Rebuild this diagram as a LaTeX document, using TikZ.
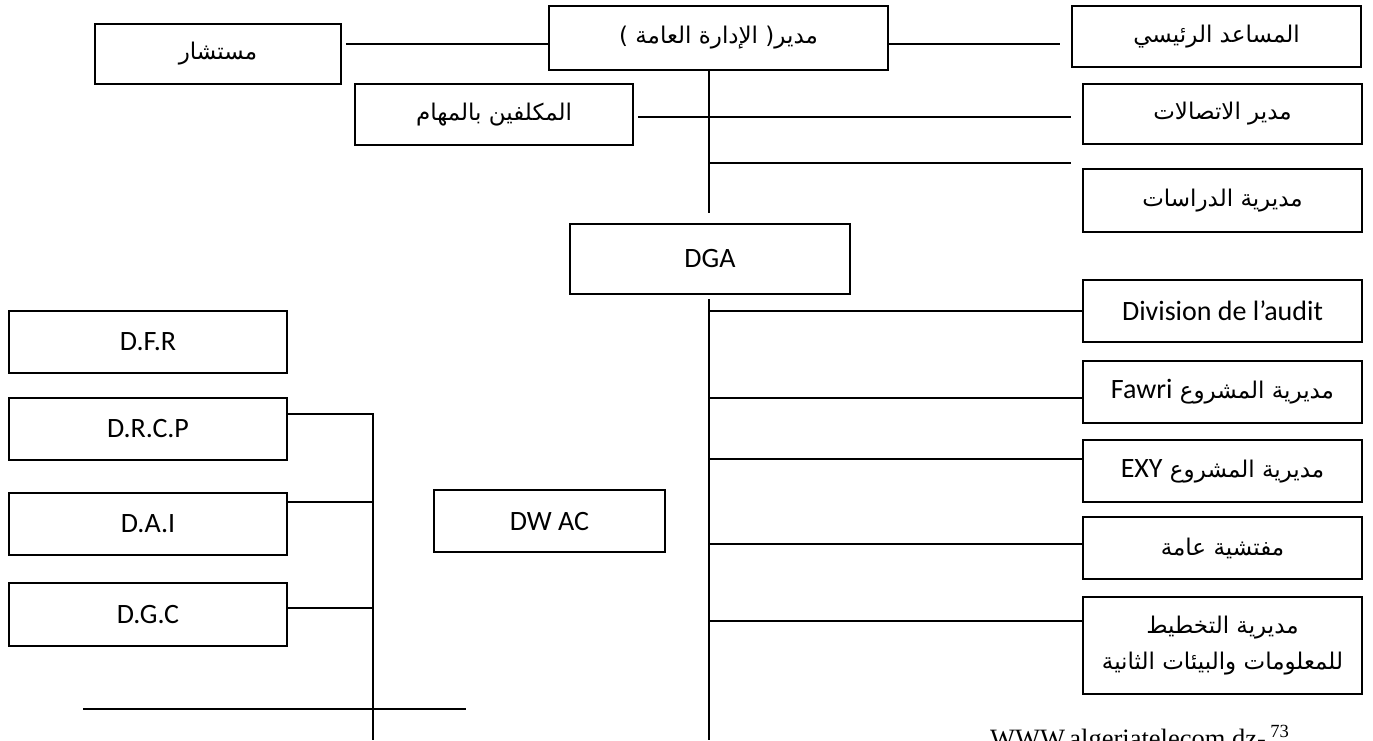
\documentclass[tikz,border=0pt]{standalone}
\usepackage{fontspec}
\setmainfont{Carlito}
\newfontfamily\arabicfont[Script=Arabic]{DejaVu Sans}
\newfontfamily\webfont{Liberation Serif}
\TeXXeTstate=1
\newcommand{\artext}[1]{{\arabicfont\fontsize{23}{28}\selectfont\beginR #1\endR}}

\begin{document}
\begin{tikzpicture}[x=1pt,y=-1pt,
  box/.style={draw, line width=1.8pt, minimum height=62pt, inner sep=0pt,
    font=\fontsize{28}{34}\selectfont},
  rbox/.style={box, minimum width=279pt},
  lbox/.style={box, minimum width=278pt},
  link/.style={line width=1.8pt}]
\useasboundingbox (0,0) rectangle (1373,740);

\node[box, minimum width=339pt, minimum height=64pt] (dir) at (718.5,38) {\artext{مدير( الإدارة العامة )}};
\node[box, minimum width=246pt, minimum height=60pt] (mustashar) at (218,54) {\artext{مستشار}};
\node[box, minimum width=289pt, minimum height=61pt] (musaid) at (1216.5,36.5) {\artext{المساعد الرئيسي}};
\node[box, minimum width=278pt, minimum height=61pt] (mukallafin) at (494,114.5) {\artext{المكلفين بالمهام}};
\node[rbox, minimum height=60pt] (ittisalat) at (1222.5,114) {\artext{مدير الاتصالات}};
\node[rbox, minimum height=63pt] (dirasat) at (1222.5,200.5) {\artext{مديرية الدراسات}};
\node[box, minimum width=280pt, minimum height=70pt] (dga) at (710,259) {DGA};

\node[rbox] (audit) at (1222.5,311) {Division de l’audit};
\node[rbox] (fawri) at (1222.5,392) {\artext{مديرية المشروع \beginL{\rmfamily\fontsize{28}{34}\selectfont Fawri}\endL}};
\node[rbox] (exy) at (1222.5,471) {\artext{مديرية المشروع \beginL{\rmfamily\fontsize{28}{34}\selectfont EXY}\endL}};
\node[rbox] (inspect) at (1222.5,548) {\artext{مفتشية عامة}};
\node[rbox, minimum height=97pt, align=center] (takhtit) at (1222.5,645.5)
  {\artext{مديرية التخطيط}\\[2pt]\artext{للمعلومات والبيئات الثانية}};

\node[lbox] (dfr) at (148,342) {D.F.R};
\node[lbox] (drcp) at (148,429) {D.R.C.P};
\node[lbox] (dai) at (148,524) {D.A.I};
\node[lbox, minimum height=63pt] (dgc) at (148,614.5) {D.G.C};
\node[box, minimum width=231pt] (dwac) at (549.5,521) {DW AC};

\node[anchor=base west, inner sep=0pt, font=\webfont\fontsize{26.5}{30}\selectfont] (site)
  at (990,747) {WWW.algeriatelecom.dz-\,\textsuperscript{73}};

\coordinate (rail1) at (0,44);
\coordinate (rail2) at (0,117);
\coordinate (rail3) at (0,163);
\coordinate (axis1) at (709,213);
\coordinate (spine) at (709,299);
\coordinate (spineend) at (709,740);
\coordinate (lspine) at (373,414);
\coordinate (lspineend) at (373,740);
\coordinate (baseL) at (83,709);
\coordinate (baseR) at (466,709);

\draw[link] (axis1 |- dir.south) -- (axis1);
\draw[link, shorten <=4pt] (mustashar.east |- rail1) -- (dir.west |- rail1);
\draw[link, shorten >=11pt] (dir.east |- rail1) -- (musaid.west |- rail1);
\draw[link, shorten <=4pt, shorten >=11pt] (mukallafin.east |- rail2) -- (ittisalat.west |- rail2);
\draw[link, shorten >=11pt] (axis1 |- rail3) -- (dirasat.west |- rail3);

\draw[link] (spine) -- (spineend);
\foreach \n/\dy in {audit/0, fawri/-6, exy/12, inspect/4, takhtit/24.5}{
  \path ([yshift=\dy pt]\n.west) coordinate (b);
  \draw[link] (b) -- (b -| spine);
}

\draw[link] (drcp.east |- lspine) -| (lspineend);
\foreach \n/\dy in {dai/22, dgc/6.5}{
  \path ([yshift=\dy pt]\n.east) coordinate (b);
  \draw[link] (b) -- (b -| lspine);
}
\draw[link] (baseL) -- (baseR);
\end{tikzpicture}
\end{document}
